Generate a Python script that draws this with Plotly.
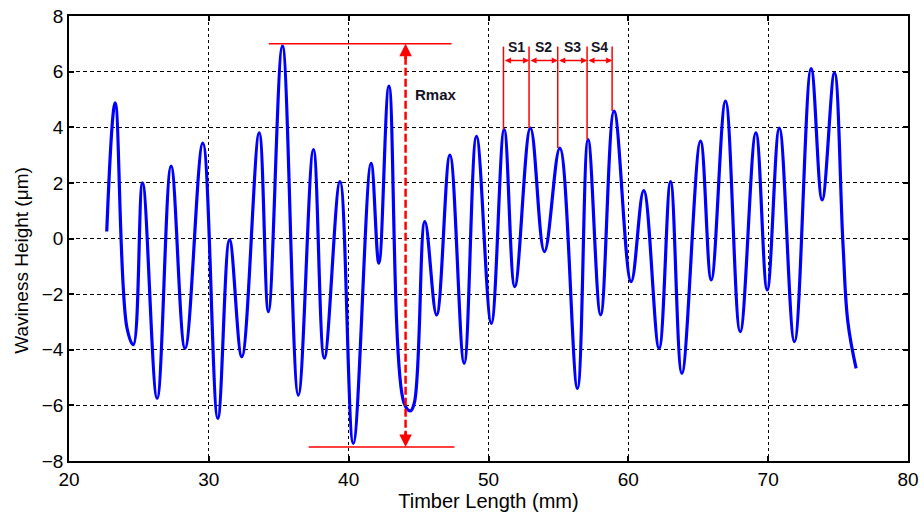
import plotly.graph_objects as go

# Profile data
length_mm = [22.7, 23.3, 24.14, 24.6, 25.26, 26.3, 27.3, 28.3, 29.57, 30.64,
             31.48, 32.36, 33.6, 34.26, 35.26, 36.4, 37.48, 38.26, 39.38, 40.33,
             41.6, 42.16, 42.88, 43.95, 44.4, 44.7, 45.45, 46.29, 47.24, 48.26,
             49.14, 50.2, 51.12, 51.88, 53.0, 54.0, 55.1, 56.36, 57.12, 58.02,
             58.98, 60.2, 61.1, 62.2, 63.02, 63.83, 65.16, 65.93, 66.95, 68.0,
             69.12, 69.93, 70.8, 71.88, 73.07, 73.86, 74.74, 75.35, 75.7, 76.29]
waviness_um = [0.25, 4.88, -3.2, -3.82, 2.0, -5.75, 2.6, -3.95, 3.43, -6.47,
               -0.05, -4.25, 3.8, -2.63, 6.92, -5.63, 3.2, -4.3, 2.05, -7.37,
               2.7, -0.89, 5.48, -5.9, -6.2, -5.9, 0.61, -2.75, 3.0, -4.49,
               3.67, -3.05, 3.92, -1.73, 3.97, -0.47, 3.25, -5.39, 3.56, -2.75,
               4.58, -1.55, 1.72, -3.95, 2.05, -4.85, 3.5, -1.49, 4.94, -3.35,
               3.8, -1.85, 3.97, -3.71, 6.11, 1.39, 5.96, -0.2, -3.0, -4.67]

# Rmax annotation
rmax_x = 44.07
rmax_top, rmax_bottom = 7.0, -7.5
rmax_top_span = [34.29, 47.36]
rmax_bottom_span = [37.14, 47.57]

# Spacing annotation (S1..S4)
s_line_x = [51.07, 52.9, 54.95, 57.05, 58.84]
s_line_bottom = [3.92, 3.97, 3.25, 3.56, 4.58]
s_line_top = 6.9
s_arrow_y = 6.4
s_labels = ["S1", "S2", "S3", "S4"]

x_ticks = [20, 30, 40, 50, 60, 70, 80]
y_ticks = [-8, -6, -4, -2, 0, 2, 4, 6, 8]

FONT = "Liberation Sans, Arial, sans-serif"

fig = go.Figure()
fig.add_trace(go.Scatter(x=length_mm, y=waviness_um, mode="lines",
                         line=dict(color="#0000ff", width=3.2, shape="spline", smoothing=1.1),
                         showlegend=False, hoverinfo="skip"))

red = "#ff0000"
shapes = []
shapes.append(dict(type="line", xref="x", yref="y", x0=rmax_top_span[0], x1=rmax_top_span[1],
                   y0=rmax_top, y1=rmax_top, line=dict(color=red, width=1.5)))
shapes.append(dict(type="line", xref="x", yref="y", x0=rmax_bottom_span[0], x1=rmax_bottom_span[1],
                   y0=rmax_bottom, y1=rmax_bottom, line=dict(color=red, width=1.5)))
shapes.append(dict(type="line", xref="x", yref="y", x0=rmax_x, x1=rmax_x,
                   y0=rmax_bottom + 0.3, y1=rmax_top - 0.3,
                   line=dict(color=red, width=2.5, dash="8px,3px")))
for xs, yb in zip(s_line_x, s_line_bottom):
    shapes.append(dict(type="line", xref="x", yref="y", x0=xs, x1=xs, y0=yb, y1=s_line_top,
                       line=dict(color=red, width=1.5)))

annotations = []
annotations.append(dict(x=rmax_x, y=rmax_top, ax=rmax_x, ay=rmax_top - 0.6, xref="x", yref="y",
                        axref="x", ayref="y", showarrow=True, arrowhead=2, arrowsize=1.0,
                        arrowwidth=2.5, arrowcolor=red, text="", standoff=0))
annotations.append(dict(x=rmax_x, y=rmax_bottom, ax=rmax_x, ay=rmax_bottom + 0.6, xref="x", yref="y",
                        axref="x", ayref="y", showarrow=True, arrowhead=2, arrowsize=1.0,
                        arrowwidth=2.5, arrowcolor=red, text="", standoff=0))
annotations.append(dict(x=44.6, y=5.19, xref="x", yref="y", text="<b>Rmax</b>", showarrow=False,
                        xanchor="left", yanchor="middle",
                        font=dict(family=FONT, size=15, color="#141428")))
for i, lab in enumerate(s_labels):
    x0, x1 = s_line_x[i], s_line_x[i + 1]
    annotations.append(dict(x=x1, y=s_arrow_y, ax=x0, ay=s_arrow_y, xref="x", yref="y",
                            axref="x", ayref="y", showarrow=True, arrowhead=2, arrowside="end+start",
                            arrowsize=0.8, arrowwidth=1.5, arrowcolor=red, text="", standoff=0,
                            startstandoff=0))
    annotations.append(dict(x=(x0 + x1) / 2, y=6.88, xref="x", yref="y", text="<b>" + lab + "</b>",
                            showarrow=False, xanchor="center", yanchor="middle",
                            font=dict(family=FONT, size=14, color="#141428")))
# y-axis title (placed slightly below centre as in the reference)
annotations.append(dict(x=-0.056, y=0.45, xref="paper", yref="paper", text="Waviness Height (μm)",
                        textangle=-90, showarrow=False, xanchor="center", yanchor="middle",
                        font=dict(family=FONT, size=19, color="black")))

axis_common = dict(showline=True, linecolor="black", linewidth=1.5, mirror="ticks",
                   ticks="inside", ticklen=5, tickcolor="black", tickwidth=1.5, showgrid=True,
                   gridcolor="black", gridwidth=1.3, zeroline=False, automargin=False,
                   tickfont=dict(family=FONT, size=19, color="black"))

fig.update_layout(
    width=924, height=521,
    margin=dict(l=69, r=16, t=16, b=60),
    paper_bgcolor="white", plot_bgcolor="white",
    shapes=shapes, annotations=annotations,
    xaxis=dict(range=[20, 80], tickvals=x_ticks, griddash="3px,3px",
               title=dict(text="Timber Length (mm)", standoff=2,
                          font=dict(family=FONT, size=20, color="black")),
               **axis_common),
    yaxis=dict(range=[-8, 8], tickvals=y_ticks, griddash="4px,3px", **axis_common),
)

fig.write_html("out.html")
